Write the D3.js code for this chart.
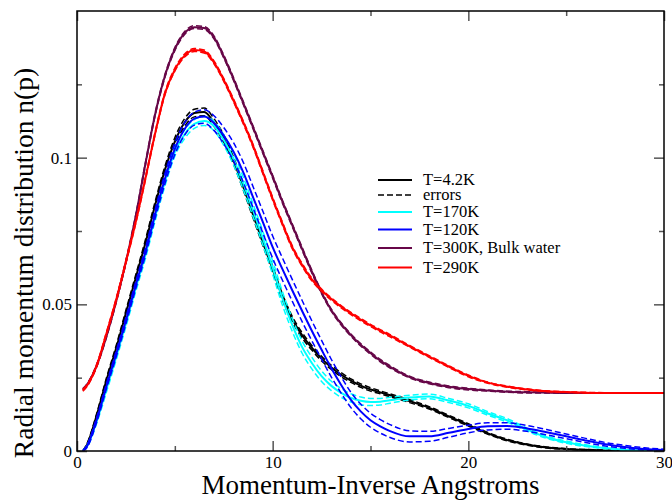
<!DOCTYPE html>
<html>
<head>
<meta charset="utf-8">
<script src="https://cdn.jsdelivr.net/npm/d3@7"></script>
<style>
body { margin: 0; background: #fff; }
</style>
</head>
<body>
<div id="chart"></div>
<script>
// momentum grid (inverse Angstroms)
const momentum = [0.3, 0.5, 1, 1.5, 2, 2.5, 3, 3.5, 4, 4.5, 5, 5.5, 6, 6.5, 7, 7.5, 8, 8.5, 9, 9.5,
    10, 10.5, 11, 11.5, 12, 12.5, 13, 13.5, 14, 14.5, 15, 15.5, 16, 17, 18, 19, 20, 21, 22, 23,
    24, 25, 26, 27, 28, 29, 30]

// n(p) for each temperature
const nT4K = [0, 0.002, 0.012, 0.024, 0.035, 0.047, 0.059, 0.071, 0.084, 0.096, 0.1055, 0.1120, 0.1152, 0.1156, 0.1120, 0.1065, 0.0990, 0.0900, 0.0805, 0.0710,
    0.0620, 0.0525, 0.0450, 0.0395, 0.0352, 0.0315, 0.0285, 0.0260, 0.0240, 0.0223, 0.0210, 0.0200, 0.0190, 0.0170, 0.0147, 0.0118, 0.0089, 0.0060, 0.0037, 0.0022,
    0.0012, 0.0007, 0.0004, 0.0002, 0.0001, 0, 0]
const nT170K = [0, 0.0015, 0.010, 0.021, 0.032, 0.0435, 0.0555, 0.067, 0.080, 0.092, 0.102, 0.108, 0.1115, 0.1125, 0.1108, 0.1060, 0.0995, 0.0912, 0.0820, 0.0725,
    0.0625, 0.0520, 0.0430, 0.0355, 0.0300, 0.0255, 0.0222, 0.0198, 0.0181, 0.0171, 0.0167, 0.0168, 0.0173, 0.0182, 0.0186, 0.0172, 0.0154, 0.0128, 0.0104, 0.0073,
    0.0047, 0.0030, 0.0018, 0.0010, 0.0004, 0.0001, 0]
const nT120K = [0, 0.0015, 0.0105, 0.022, 0.033, 0.0445, 0.0565, 0.068, 0.081, 0.093, 0.1030, 0.1098, 0.1133, 0.1140, 0.1118, 0.1075, 0.1020, 0.0950, 0.0865, 0.0780,
    0.0695, 0.0620, 0.0548, 0.0478, 0.0410, 0.0345, 0.0282, 0.0225, 0.0174, 0.0135, 0.0105, 0.0084, 0.0068, 0.0050, 0.0050, 0.0062, 0.0075, 0.0084, 0.0085, 0.0077,
    0.0064, 0.0050, 0.0036, 0.0023, 0.0014, 0.0007, 0.0003]
const nT300K = [0.0210, 0.0225, 0.0290, 0.0390, 0.0510, 0.0645, 0.0800, 0.0980, 0.1150, 0.1280, 0.1370, 0.1425, 0.1445, 0.1442, 0.1410, 0.1345, 0.1268, 0.1186, 0.1103, 0.1019,
    0.0935, 0.0850, 0.0770, 0.0690, 0.0612, 0.0540, 0.0480, 0.0433, 0.0395, 0.0362, 0.0334, 0.0308, 0.0287, 0.0252, 0.0232, 0.0219, 0.0211, 0.0206, 0.0202, 0.0200,
    0.0199, 0.0198, 0.0198, 0.0198, 0.0198, 0.0198, 0.0198]
const nT290K = [0.0207, 0.0222, 0.0290, 0.0400, 0.0515, 0.0645, 0.0780, 0.0930, 0.1085, 0.1220, 0.1300, 0.1348, 0.1367, 0.1362, 0.1325, 0.1265, 0.1195, 0.1120, 0.1040, 0.0950,
    0.0860, 0.0775, 0.0695, 0.0635, 0.0585, 0.0548, 0.0518, 0.0492, 0.0469, 0.0448, 0.0428, 0.0410, 0.0393, 0.0357, 0.0322, 0.0288, 0.0256, 0.0233, 0.0219, 0.0210,
    0.0204, 0.0201, 0.0199, 0.0198, 0.0198, 0.0198, 0.0198]

// error half widths (dashed lines)
const errT4K = [0, 0.0003, 0.0006, 0.0008, 0.0009, 0.0010, 0.0010, 0.0011, 0.0012, 0.0012, 0.0013, 0.0013, 0.0013, 0.0013, 0.0013, 0.0012, 0.0012, 0.0011, 0.0011, 0.0010,
    0.0010, 0.0010, 0.0009, 0.0009, 0.0008, 0.0008, 0.0007, 0.0007, 0.0006, 0.0006, 0.0006, 0.0005, 0.0005, 0.0005, 0.0004, 0.0004, 0.0004, 0.0003, 0.0003, 0.0002,
    0.0002, 0.0001, 0.0001, 0.0001, 0, 0, 0]
const errT170K = [0, 0.0003, 0.0007, 0.0010, 0.0010, 0.0011, 0.0012, 0.0013, 0.0014, 0.0015, 0.0015, 0.0015, 0.0015, 0.0015, 0.0016, 0.0018, 0.0020, 0.0021, 0.0022, 0.0023,
    0.0023, 0.0023, 0.0022, 0.0021, 0.0020, 0.0018, 0.0016, 0.0015, 0.0014, 0.0013, 0.0012, 0.0011, 0.0010, 0.0008, 0.0008, 0.0007, 0.0007, 0.0006, 0.0006, 0.0005,
    0.0004, 0.0004, 0.0003, 0.0002, 0.0002, 0.0001, 0]
const errT120K = [0, 0.0004, 0.0008, 0.0009, 0.0010, 0.0011, 0.0012, 0.0013, 0.0015, 0.0017, 0.0019, 0.0021, 0.0022, 0.0023, 0.0025, 0.0028, 0.0031, 0.0034, 0.0036, 0.0037,
    0.0038, 0.0038, 0.0037, 0.0036, 0.0034, 0.0032, 0.0030, 0.0028, 0.0026, 0.0025, 0.0024, 0.0023, 0.0022, 0.0019, 0.0017, 0.0015, 0.0013, 0.0012, 0.0011, 0.0010,
    0.0009, 0.0008, 0.0007, 0.0006, 0.0005, 0.0004, 0.0003]
const errT300K = [0.0003, 0.0003, 0.0004, 0.0004, 0.0005, 0.0005, 0.0005, 0.0005, 0.0005, 0.0005, 0.0005, 0.0005, 0.0005, 0.0005, 0.0005, 0.0005, 0.0005, 0.0005, 0.0005, 0.0005,
    0.0005, 0.0005, 0.0005, 0.0005, 0.0005, 0.0004, 0.0004, 0.0004, 0.0004, 0.0004, 0.0004, 0.0004, 0.0004, 0.0003, 0.0003, 0.0003, 0.0003, 0.0002, 0.0002, 0.0002,
    0.0001, 0.0001, 0.0001, 0.0001, 0.0001, 0.0001, 0.0001]
const errT290K = [0.0003, 0.0003, 0.0004, 0.0004, 0.0005, 0.0005, 0.0005, 0.0005, 0.0005, 0.0005, 0.0005, 0.0005, 0.0005, 0.0005, 0.0005, 0.0005, 0.0005, 0.0005, 0.0005, 0.0005,
    0.0005, 0.0005, 0.0005, 0.0005, 0.0005, 0.0004, 0.0004, 0.0004, 0.0004, 0.0004, 0.0004, 0.0004, 0.0004, 0.0003, 0.0003, 0.0003, 0.0003, 0.0002, 0.0002, 0.0002,
    0.0001, 0.0001, 0.0001, 0.0001, 0.0001, 0.0001, 0.0001]

const seriesColors = ["#000000", "#00ffff", "#0000ff", "#670748", "#ff0000"]
const seriesValues = [nT4K, nT170K, nT120K, nT300K, nT290K]
const seriesErrors = [errT4K, errT170K, errT120K, errT300K, errT290K]

const xMajorTicks = [0, 10, 20, 30]
const xMinorTicks = [5, 15, 25]
const yMajorTicks = [0, 0.05, 0.1]
const yMinorTicks = [0.025, 0.075, 0.125]

// legend: label, colour, dashed
const legendItems = [
    { label: "T=4.2K", color: "#000000", dashed: false },
    { label: "errors", color: "#000000", dashed: true },
    { label: "T=170K", color: "#00ffff", dashed: false },
    { label: "T=120K", color: "#0000ff", dashed: false },
    { label: "T=300K, Bulk water", color: "#670748", dashed: false },
    { label: "T=290K", color: "#ff0000", dashed: false }
]

let width = 672
let height = 500
let margin = { left: 77, right: 8, top: 11, bottom: 49 }
let font = "'Liberation Serif', 'Times New Roman', serif"

let svg = d3.select("#chart")
    .append("svg")
    .attr("width", width)
    .attr("height", height)
    .style("font-family", font)

let x = d3.scaleLinear().domain([0, 30]).range([margin.left, width - margin.right])
let y = d3.scaleLinear().domain([0, 0.15]).range([height - margin.bottom, margin.top])

let line = d3.line()
    .x(d => x(d[0]))
    .y(d => y(d[1]))
    .curve(d3.curveMonotoneX)

svg.append("clipPath").attr("id", "plot-clip")
    .append("rect")
    .attr("x", margin.left).attr("y", margin.top)
    .attr("width", x(30) - x(0)).attr("height", y(0) - y(0.15))

let plot = svg.append("g").attr("clip-path", "url(#plot-clip)")

// each series: dashed error lines, then the central line
seriesValues.forEach((vals, k) => {
    let errs = seriesErrors[k]
    let upper = momentum.map((p, i) => [p, vals[i] + errs[i]])
    let lower = momentum.map((p, i) => [p, Math.max(0, vals[i] - errs[i])])
    let g = plot.append("g")
    g.selectAll("path.err")
        .data([upper, lower])
        .enter()
        .append("path")
        .attr("class", "err")
        .attr("fill", "none")
        .attr("stroke", seriesColors[k])
        .attr("stroke-width", 1.5)
        .attr("stroke-dasharray", "6,3")
        .attr("d", line)
    g.append("path")
        .datum(momentum.map((p, i) => [p, vals[i]]))
        .attr("fill", "none")
        .attr("stroke", seriesColors[k])
        .attr("stroke-width", 2)
        .attr("d", line)
})

// ticks on all four sides, pointing inward
let axisG = svg.append("g")
let bottomY = y(0), topY = y(0.15), leftX = x(0), rightX = x(30)
let addAxis = (axis, tx, ty) => {
    let g = axisG.append("g").attr("transform", `translate(${tx},${ty})`).call(axis)
    g.select(".domain").remove()
    g.selectAll(".tick line").attr("stroke", "#555").attr("stroke-width", 1.5)
    g.selectAll(".tick text").attr("font-family", font).attr("font-size", 17).attr("fill", "#000")
    return g
}
addAxis(d3.axisBottom(x).tickValues(xMajorTicks).tickSize(-10).tickPadding(5).tickFormat(d3.format("d")), 0, bottomY)
addAxis(d3.axisBottom(x).tickValues(xMinorTicks).tickSize(-5).tickFormat(""), 0, bottomY)
addAxis(d3.axisTop(x).tickValues(xMajorTicks).tickSize(-10).tickFormat(""), 0, topY)
addAxis(d3.axisTop(x).tickValues(xMinorTicks).tickSize(-5).tickFormat(""), 0, topY)
addAxis(d3.axisLeft(y).tickValues(yMajorTicks).tickSize(-10).tickPadding(5).tickFormat(d => d === 0 ? "0" : String(d)), leftX, 0)
addAxis(d3.axisLeft(y).tickValues(yMinorTicks).tickSize(-5).tickFormat(""), leftX, 0)
addAxis(d3.axisRight(y).tickValues(yMajorTicks).tickSize(-10).tickFormat(""), rightX, 0)
addAxis(d3.axisRight(y).tickValues(yMinorTicks).tickSize(-5).tickFormat(""), rightX, 0)

// frame
svg.append("rect")
    .attr("x", leftX).attr("y", topY)
    .attr("width", rightX - leftX).attr("height", bottomY - topY)
    .attr("fill", "none")
    .attr("stroke", "#000")
    .attr("stroke-width", 1.5)

// axis titles
svg.append("text")
    .attr("x", (leftX + rightX) / 2)
    .attr("y", 494)
    .attr("text-anchor", "middle")
    .attr("font-size", 27)
    .text("Momentum-Inverse Angstroms")
svg.append("text")
    .attr("transform", `translate(33,263) rotate(-90)`)
    .attr("text-anchor", "middle")
    .attr("font-size", 27.5)
    .text("Radial momentum distribution n(p)")

// legend
let legendRowY = [180, 195, 212, 229.5, 248, 267.5]
let legend = svg.append("g")
legend.selectAll("line")
    .data(legendItems)
    .enter()
    .append("line")
    .attr("x1", 378).attr("x2", 412)
    .attr("y1", (d, i) => legendRowY[i]).attr("y2", (d, i) => legendRowY[i])
    .attr("stroke", d => d.color)
    .attr("stroke-width", d => d.dashed ? 1.5 : 2)
    .attr("stroke-dasharray", d => d.dashed ? "6,3" : null)
legend.selectAll("text")
    .data(legendItems)
    .enter()
    .append("text")
    .attr("x", 423)
    .attr("y", (d, i) => legendRowY[i] + 5)
    .attr("font-size", 16.5)
    .text(d => d.label)
</script>
</body>
</html>
